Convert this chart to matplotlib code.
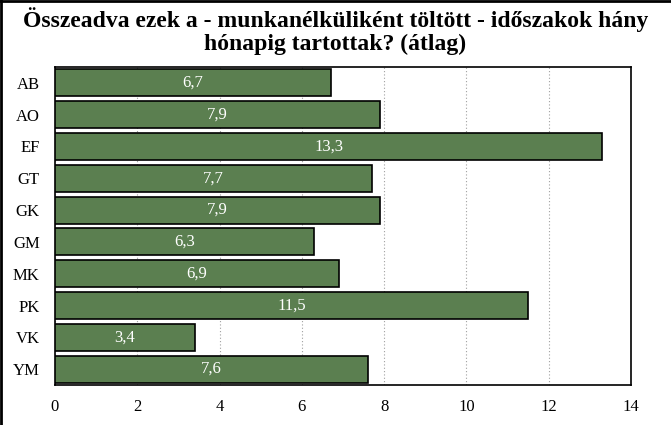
import matplotlib
matplotlib.use("Agg")
import matplotlib.pyplot as plt
from matplotlib.lines import Line2D

categories = ["AB", "AO", "EF", "GT", "GK", "GM", "MK", "PK", "VK", "YM"]
values = [6.7, 7.9, 13.3, 7.7, 7.9, 6.3, 6.9, 11.5, 3.4, 7.6]
labels = ["6,7", "7,9", "13,3", "7,7", "7,9", "6,3", "6,9", "11,5", "3,4", "7,6"]
xticks = [0, 2, 4, 6, 8, 10, 12, 14]

plt.rcParams["font.family"] = ["Liberation Serif", "DejaVu Serif"]

fig = plt.figure(figsize=(6.71, 4.25), dpi=100)
ax = fig.add_axes([55/671, 1 - 385/425, (631 - 55)/671, (385 - 67)/425])

ypos = list(range(len(categories)))
ax.barh(ypos, values, height=0.85, color="#5B7F50", edgecolor="black", linewidth=1.2, zorder=3)
for y, v, t in zip(ypos, values, labels):
    ax.text(v / 2, y, t, ha="center", va="center", color="white", fontsize=12, zorder=4)

ax.set_xlim(0, 14)
ax.set_ylim(len(categories) - 0.5, -0.5)
ax.set_yticks(ypos)
ax.set_yticklabels(categories, fontsize=12)
ax.set_xticks(xticks)
ax.set_xticklabels([str(x) for x in xticks], fontsize=12)
ax.tick_params(axis="both", length=0)
ax.tick_params(axis="x", pad=10)
ax.tick_params(axis="y", pad=11)
ax.grid(axis="x", color="#A0A0A0", linestyle=(0, (1, 2)), linewidth=0.8, zorder=1)
for s in ax.spines.values():
    s.set_linewidth(1.2)
    s.set_color("black")

fig.text(0.5, 1 - 7/425, "Összeadva ezek a - munkanélküliként töltött - időszakok hány\nhónapig tartottak? (átlag)",
         ha="center", va="top", fontsize=17, fontweight="bold", linespacing=1.12)

fig.add_artist(Line2D([0, 1], [1 - 0.5/425, 1 - 0.5/425], transform=fig.transFigure, color="black", linewidth=2))
fig.add_artist(Line2D([1/671, 1/671], [0, 1], transform=fig.transFigure, color="black", linewidth=2))

fig.savefig("out.png", dpi=100)
